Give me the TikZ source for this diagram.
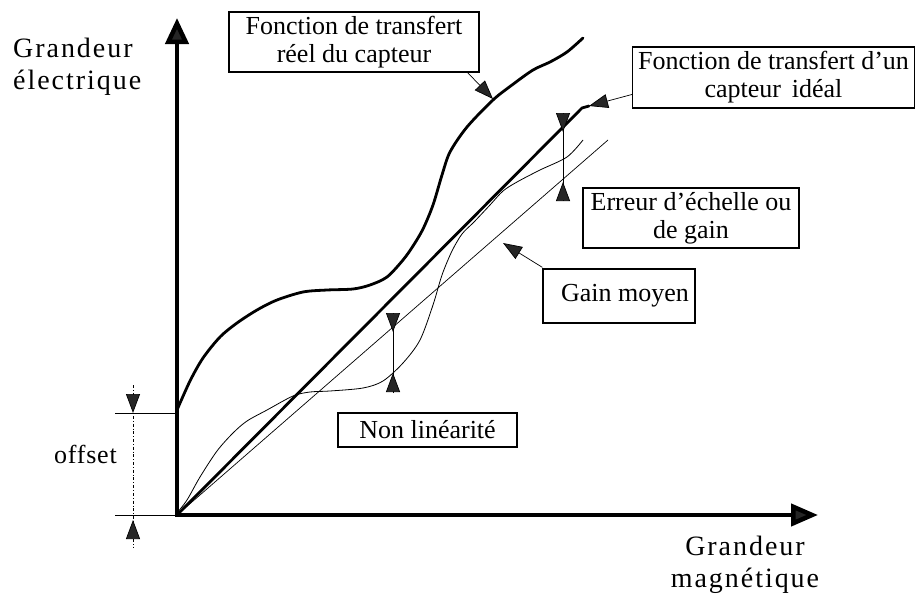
\documentclass[tikz,border=0pt]{standalone}
\usepackage{fontspec}
\setmainfont{Liberation Serif}
\usetikzlibrary{arrows.meta,calc}
\begin{document}
\begin{tikzpicture}[x=1pt,y=-1pt,
  box/.style={draw, line width=1.3pt, inner sep=0pt, align=center, font=\fontsize{26}{28}\selectfont},
  lbl/.style={inner sep=0pt, font=\fontsize{28}{32.5}\selectfont\addfontfeatures{LetterSpace=7}},
  axisline/.style={line width=4.5pt, {Triangle[length=26pt,width=23pt,fill=black!85]}-{Triangle[length=27pt,width=22pt,fill=black!85]}},
  thickcurve/.style={line width=2.8pt, line join=round, line cap=round},
  thincurve/.style={line width=0.8pt},
  tri/.style={line width=0.7pt, -{Triangle[length=19pt,width=14pt,fill=black!85]}},
  guide/.style={line width=0.7pt}
]
\useasboundingbox (0,0) rectangle (916,597);

% axes
\coordinate (O) at (177,515);
\coordinate (ytip) at (177,18);
\coordinate (xtip) at (818,515);
\draw[axisline] (ytip) -- (O) -- (xtip);

% axis labels
\node[lbl, align=left, anchor=west] (ylab) at (13,67) {Grandeur\\électrique};
\node[lbl, align=center] (xlab) at (745,565) {Grandeur\\magnétique};

% offset
\coordinate (offL1) at (115,413);
\coordinate (offR1) at (177,413);
\coordinate (offL2) at (115,515);
\draw[guide] (offL1) -- (offR1);
\draw[guide] (offL2) -- (O);
\coordinate (offTop) at (133,385);
\coordinate (offBot) at (133,547);
\draw[guide, dash dot] (offTop) -- (offBot);
\coordinate (offA1) at (133,393);
\coordinate (offT1) at (133,413);
\coordinate (offA2) at (133,542);
\coordinate (offT2) at (133,520);
\draw[tri] (offA1) -- (offT1);
\draw[tri] (offA2) -- (offT2);
\node[inner sep=0pt, font=\fontsize{26}{28}\selectfont\addfontfeatures{LetterSpace=3}, anchor=base east] (offlab) at (117,463) {offset};

% ideal transfer function
\coordinate (idealEnd) at (582,108);
\coordinate (idealTip) at (589,106);
\draw[thickcurve] (O) -- (idealEnd) -- (idealTip);

% average gain
\coordinate (gainEnd) at (608,140);
\draw[line width=0.7pt] (O) -- (gainEnd);

% real transfer function
\draw[thickcurve] plot[smooth, tension=0.5] coordinates {
  (177,410) (190,381) (203,358) (220,337) (237,323) (257,310) (277,300)
  (303,292) (327,290) (353,289) (370,285) (387,277) (403,260) (413,246)
  (423,229) (433,205) (442,175) (450,152) (467,127) (493,100) (512,85)
  (533,70) (550,62) (567,52) (583,38)};

% nonlinear thin curve
\draw[thincurve] plot[smooth, tension=0.5] coordinates {
  (177,513) (187,500) (200,477) (217,451) (233,433) (247,421) (267,410)
  (293,396) (310,392) (330,391) (363,388) (383,381) (403,363) (420,340)
  (433,305) (442,275) (452,251) (462,234) (474,222) (490,205) (503,191)
  (517,182) (540,170) (567,157) (583,140)};

% labels
\node[box, minimum width=250pt, minimum height=60pt] (real) at (354,42) {Fonction de transfert\\réel du capteur};
\node[box, minimum width=282pt, minimum height=61pt] (ideal) at (773.5,77.5) {Fonction de transfert d'un\\capteur \,idéal};
\node[box, minimum width=216pt, minimum height=60pt] (err) at (691,218) {Erreur d'échelle ou\\de gain};
\node[box, minimum width=152pt, minimum height=54pt] (gain) at (619,296) {\hspace*{12pt}Gain moyen};
\node[box, minimum width=179pt, minimum height=34pt] (nonlin) at (427.5,430) {Non linéarité};

% connectors from labels
\coordinate (realTip) at (493,99);
\draw[tri] ($(real.south east)+(-12,0)$) -- (realTip);
\draw[tri] ($(ideal.west)+(0,17)$) -- (idealTip);
\coordinate (gainTip) at (503,243);
\draw[tri] ($(gain.north west)+(0,-1)$) -- (gainTip);

% scale error arrows
\coordinate (eTop) at (563,115);
\coordinate (eTopTip) at (563,132);
\coordinate (eBot) at (563,200);
\coordinate (eBotTip) at (563,182);
\draw[guide] (eTop) -- (eBot);
\draw[tri] (eTop) -- (eTopTip);
\draw[tri] (eBot) -- (eBotTip);

% non-linearity arrows
\coordinate (nTop) at (393,313);
\coordinate (nTopTip) at (393,332);
\coordinate (nBot) at (393,393);
\coordinate (nBotTip) at (393,373);
\draw[guide] (nTop) -- (nBot);
\draw[tri] (nTop) -- (nTopTip);
\draw[tri] (nBot) -- (nBotTip);
\end{tikzpicture}
\end{document}
